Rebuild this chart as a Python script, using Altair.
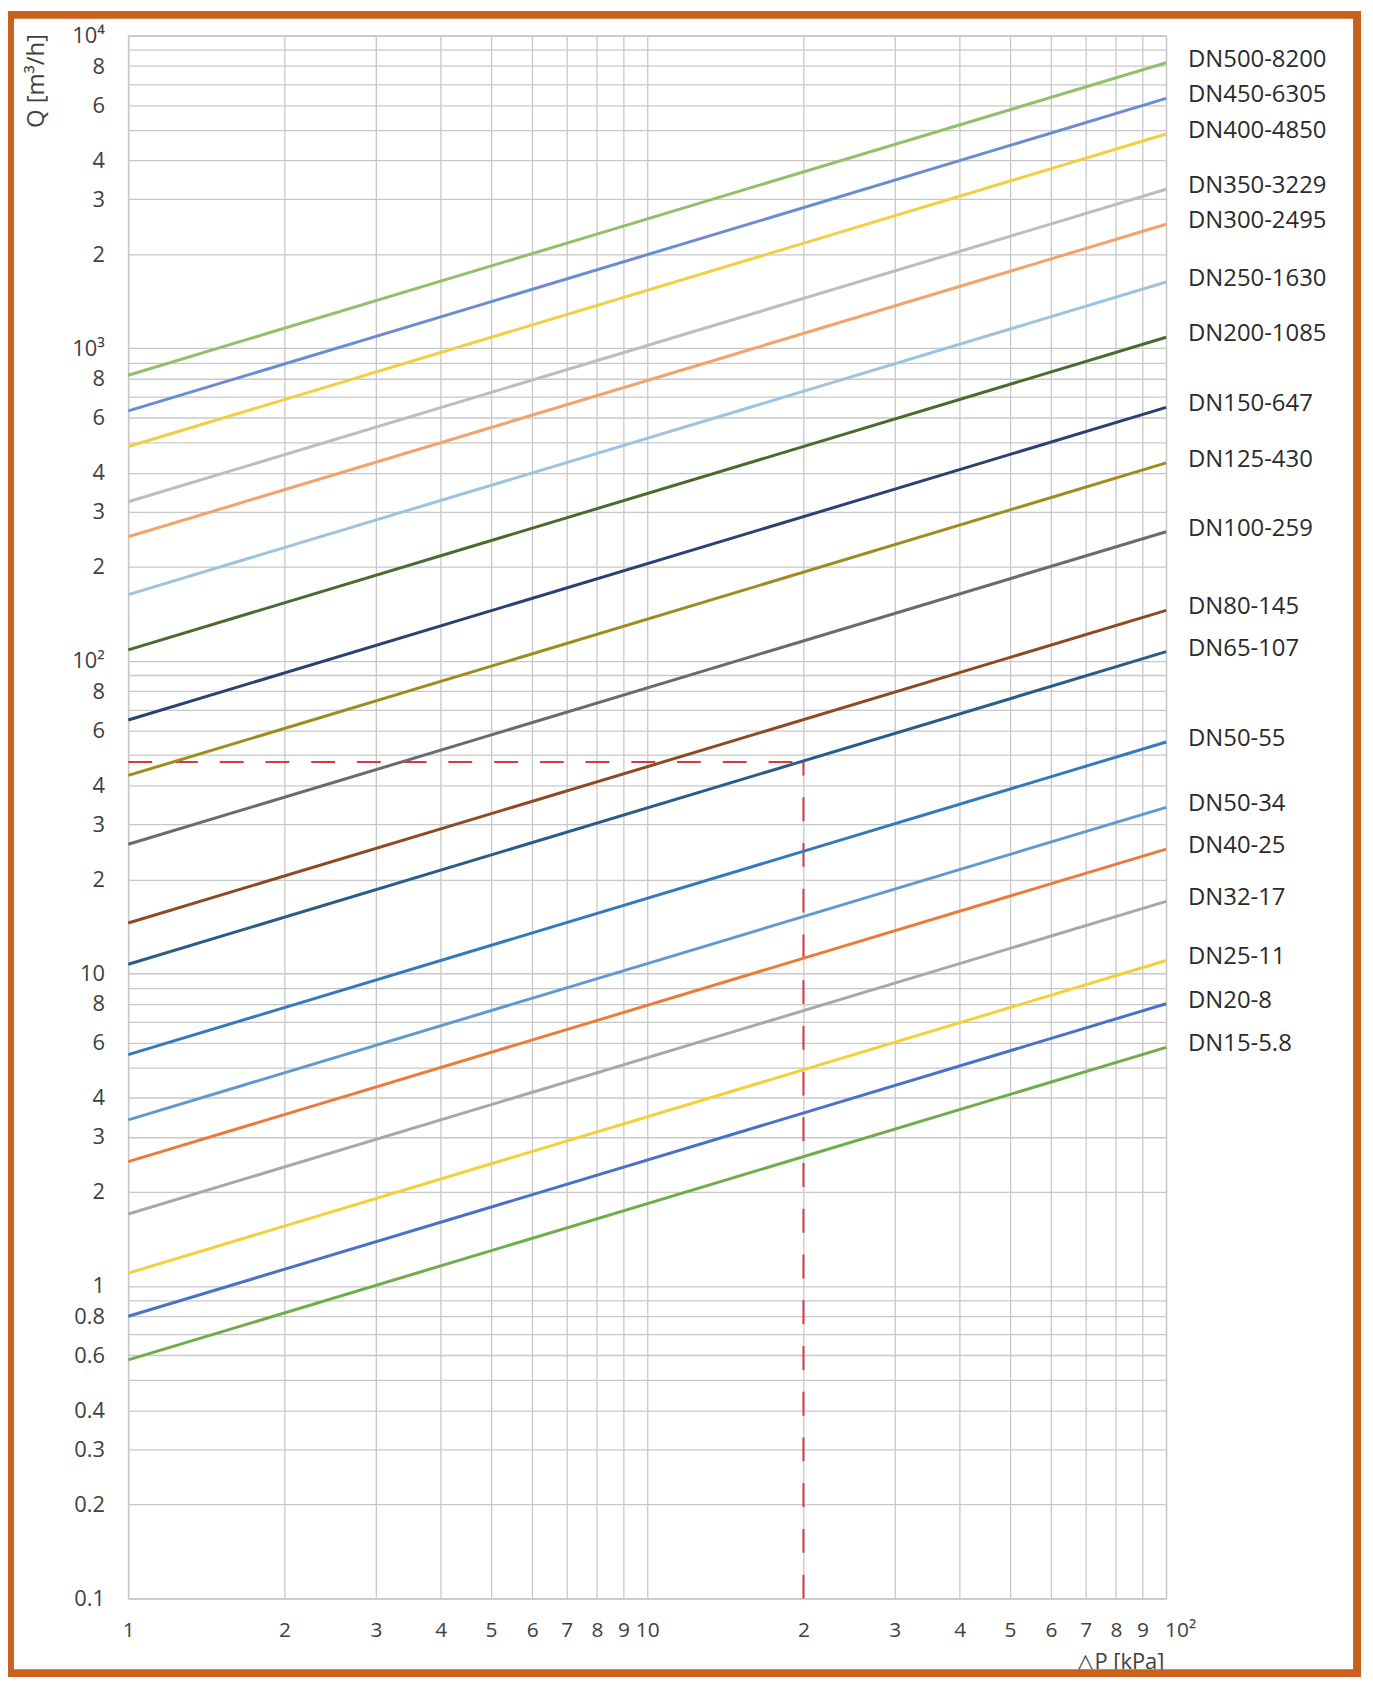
import altair as alt
import pandas as pd

# ---- data ----
names = ["DN500-8200", "DN450-6305", "DN400-4850", "DN350-3229", "DN300-2495",
         "DN250-1630", "DN200-1085", "DN150-647", "DN125-430", "DN100-259",
         "DN80-145", "DN65-107", "DN50-55", "DN50-34", "DN40-25",
         "DN32-17", "DN25-11", "DN20-8", "DN15-5.8"]
# flow at dP = 1 kPa (left edge) and at dP = 100 kPa (right edge)
q_at_1 = [820, 630.5, 485, 322.9, 249.5, 163, 108.5, 64.7, 43, 25.9,
          14.5, 10.7, 5.5, 3.4, 2.5, 1.7, 1.1, 0.8, 0.58]
q_at_100 = [8200, 6305, 4850, 3229, 2495, 1630, 1085, 647, 430, 259,
            145, 107, 55, 34, 25, 17, 11, 8, 5.8]
colors = ["#92bf6a", "#6a8cd0", "#f0d040", "#bdbdbd", "#f2a36c",
          "#9cc3e0", "#4a6a30", "#2a4270", "#a08c1c", "#6b6b6b",
          "#8e4a22", "#2a5c85", "#3679bb", "#5f99cf", "#ec7b3a",
          "#a8a8a8", "#f2d038", "#4a70c8", "#6fad4a"]
dp_ends = [1, 100]

# reading example (red dashed)
ref_dp = 20
ref_q = 47.5

# tick values
x_ticks = [1, 2, 3, 4, 5, 6, 7, 8, 9, 10, 20, 30, 40, 50, 60, 70, 80, 90, 100]
x_labels = ["1", "2", "3", "4", "5", "6", "7", "8", "9", "10",
            "2", "3", "4", "5", "6", "7", "8", "9", "10²"]
y_ticks = []
y_labels = []
for e in [-1, 0, 1, 2, 3]:
    for k in range(1, 10):
        v = round(k * 10 ** e, 6)
        y_ticks.append(v)
        if k == 1:
            y_labels.append({-1: "0.1", 0: "1", 1: "10", 2: "10²", 3: "10³"}[e])
        elif k in (2, 3, 4, 6, 8):
            y_labels.append(str(v) if e == -1 else str(k))
        else:
            y_labels.append("")
y_ticks.append(10000)
y_labels.append("10⁴")


def label_expr(vals, labs):
    expr = "''"
    for v, l in reversed(list(zip(vals, labs))):
        expr = f"abs(datum.value - {v}) < {v}*1e-6 ? '{l}' : ({expr})"
    return expr


rows = []
for n, a, b in zip(names, q_at_1, q_at_100):
    rows.append({"name": n, "dp": dp_ends[0], "q": a})
    rows.append({"name": n, "dp": dp_ends[1], "q": b})
df = pd.DataFrame(rows)
lab_df = pd.DataFrame({"name": names, "dp": [dp_ends[1]] * len(names), "q": q_at_100})

FONT = "Open Sans"
TXT = "#404040"
GRID = "#c8c8c8"

xscale = alt.Scale(type="log", domain=[1, 100], nice=False)
yscale = alt.Scale(type="log", domain=[0.1, 10000], nice=False)

xaxis = alt.Axis(values=x_ticks, labelExpr=label_expr(x_ticks, x_labels),
                 grid=True, gridColor=GRID, gridWidth=1.3, ticks=False, tickSize=0,
                 domain=False, labelFont=FONT, labelFontSize=21, labelColor=TXT,
                 labelPadding=32, labelBaseline="middle", labelOverlap=False,
                 labelFlush=False,
                 labelOffset={"condition": {"test": "datum.value == 100", "value": 14},
                              "value": 0},
                 title="△P [kPa]", titleFont=FONT,
                 titleFontSize=22, titleFontWeight="normal", titleColor=TXT,
                 titleX=998, titleY=63, titleAlign="center",
                 titleBaseline="middle", titleAngle=0)
yaxis = alt.Axis(values=y_ticks, labelExpr=label_expr(y_ticks, y_labels),
                 grid=True, gridColor=GRID, gridWidth=1.3, ticks=False, tickSize=0,
                 domain=False, labelFont=FONT, labelFontSize=22, labelColor=TXT,
                 labelPadding=24, labelAlign="right", labelBaseline="middle",
                 labelOverlap=False, labelFlush=False,
                 title="Q [m³/h]", titleFont=FONT, titleFontSize=24,
                 titleFontWeight="normal", titleColor=TXT,
                 titleX=-92, titleY=45, titleAngle=270, titleAlign="center",
                 titleBaseline="middle")

color = alt.Color("name:N", scale=alt.Scale(domain=names, range=colors), legend=None)

lines = alt.Chart(df).mark_line(strokeWidth=3).encode(
    x=alt.X("dp:Q", scale=xscale, axis=xaxis),
    y=alt.Y("q:Q", scale=yscale, axis=yaxis),
    color=color,
    detail="name:N",
)

labels = alt.Chart(lab_df).mark_text(align="left", baseline="middle", dx=22, dy=-3,
                                     font=FONT, fontSize=24, color="#2b2b2b").encode(
    x=alt.X("dp:Q", scale=xscale),
    y=alt.Y("q:Q", scale=yscale),
    text="name:N",
)

ref_h = alt.Chart(pd.DataFrame({"x1": [1], "x2": [ref_dp], "y": [ref_q]})).mark_rule(
    color="#d8383f", strokeWidth=2, strokeDash=[24, 22]).encode(
    x=alt.X("x1:Q", scale=xscale), x2="x2:Q", y=alt.Y("y:Q", scale=yscale))
ref_v = alt.Chart(pd.DataFrame({"x": [ref_dp], "y1": [0.1], "y2": [ref_q]})).mark_rule(
    color="#d8383f", strokeWidth=2, strokeDash=[24, 22]).encode(
    x=alt.X("x:Q", scale=xscale), y=alt.Y("y1:Q", scale=yscale), y2="y2:Q")

frame = alt.Chart(pd.DataFrame({"a": [0]})).mark_rect(
    fillOpacity=0, stroke="#c9601b", strokeWidth=8).encode(
    x=alt.value(-119), x2=alt.value(1236), y=alt.value(-21), y2=alt.value(1647))

chart = alt.layer(ref_h, ref_v, lines, labels, frame).properties(
    width=1044, height=1572,
    autosize=alt.AutoSizeParams(type="none"),
    padding={"left": 121, "top": 23, "right": 200, "bottom": 77},
    background="white",
).configure_view(stroke=GRID, strokeWidth=1.3)

chart.save("out.html", embed_options={"renderer": "svg", "actions": False})
